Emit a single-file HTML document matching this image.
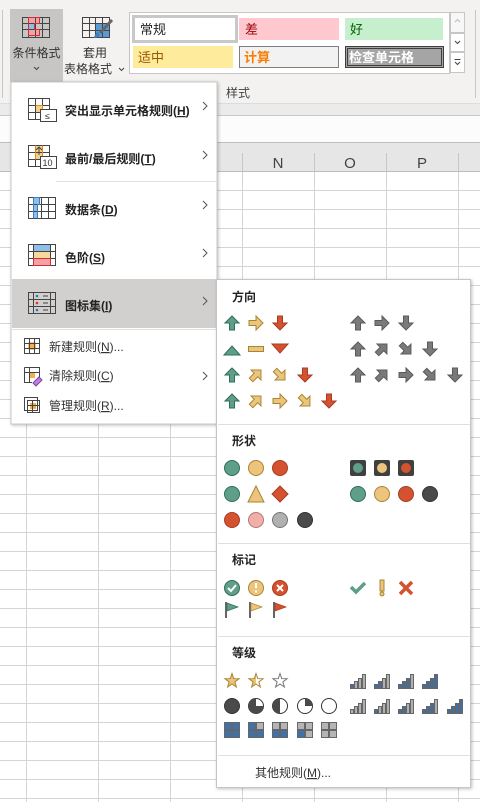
<!DOCTYPE html>
<html><head><meta charset="utf-8">
<style>
html,body{margin:0;padding:0;width:480px;height:802px;overflow:hidden;background:#fff}
svg{display:block}
text{font-family:"Liberation Sans","Noto Sans CJK SC",sans-serif}
</style></head><body>
<svg width="480" height="802" viewBox="0 0 480 802" xmlns="http://www.w3.org/2000/svg">
<defs>
<polygon id="up" points="8,1 15,8 10.5,8 10.5,15 5.5,15 5.5,8 1,8"/>
<polygon id="star" points="8,0.5 9.76,5.57 15.13,5.68 10.85,8.93 12.41,14.07 8,11 3.59,14.07 5.15,8.93 0.87,5.68 6.24,5.57"/>
<linearGradient id="half" x1="0" x2="1" y1="0" y2="0"><stop offset="0.5" stop-color="#ecc47e"/><stop offset="0.5" stop-color="#fff"/></linearGradient>
<filter id="sh" x="-10%" y="-10%" width="130%" height="130%"><feDropShadow dx="1" dy="1" stdDeviation="1.5" flood-opacity="0.25"/></filter>
</defs>

<!-- grid background -->
<rect x="0" y="171" width="480" height="631" fill="#fff"/>
<g stroke="#d4d4d4" stroke-width="1">
<path d="M0 190.5H480M0 209.5H480M0 228.5H480M0 247.5H480M0 266.5H480M0 285.5H480M0 304.5H480M0 323.5H480M0 342.5H480M0 361.5H480M0 380.5H480M0 399.5H480M0 418.5H480M0 437.5H480M0 456.5H480M0 475.5H480M0 494.5H480M0 513.5H480M0 532.5H480M0 551.5H480M0 570.5H480M0 589.5H480M0 608.5H480M0 627.5H480M0 646.5H480M0 665.5H480M0 684.5H480M0 703.5H480M0 722.5H480M0 741.5H480M0 760.5H480M0 779.5H480M0 798.5H480"/>
<path d="M26.5 171V802M98.5 171V802M170.5 171V802M242.5 171V802M314.5 171V802M386.5 171V802M458.5 171V802"/>
</g>
<!-- header row -->
<rect x="0" y="142" width="480" height="29" fill="#e6e6e6"/>
<path d="M0 142.5H480M0 171.5H480" stroke="#bdbdbd"/>
<path d="M242.5 153V171M314.5 153V171M386.5 153V171M458.5 153V171M26.5 153V171M98.5 153V171M170.5 153V171" stroke="#c6c6c6"/>
<text x="278" y="168" font-size="15" fill="#444" text-anchor="middle">N</text>
<text x="350" y="168" font-size="15" fill="#444" text-anchor="middle">O</text>
<text x="422" y="168" font-size="15" fill="#444" text-anchor="middle">P</text>
<!-- formula band -->
<rect x="0" y="104" width="480" height="11" fill="#ebebeb"/>
<rect x="0" y="115" width="480" height="27" fill="#fcfcfc"/>
<path d="M0 115.5H480" stroke="#c8c8c8"/>

<!-- ribbon -->
<rect x="0" y="0" width="480" height="104" fill="#f3f2f1"/>
<path d="M0 103.5H480" stroke="#dcdcdc"/>
<path d="M2.5 10V98M475.5 10V98" stroke="#c8c6c4"/>
<rect x="10" y="9" width="53" height="73" fill="#c8c6c4"/>
<!-- cond format icon -->
<g transform="translate(22,17)">
<rect x="6" y="0" width="12" height="6" fill="#f4a0a8"/><rect x="6" y="12" width="12" height="6" fill="#f4a0a8"/><rect x="6" y="6" width="6" height="6" fill="#8fbfe6"/>
<path d="M0.5 0.5H27.5V20.5H0.5ZM0.5 6.5H27.5M0.5 12.5H27.5M6.5 .5V20.5M13.5 .5V20.5M20.5 .5V20.5" fill="none" stroke="#444"/>
<path d="M6.5 .5H17.5V6.5H12.5V12.5H17.5V18.5H6.5Z" fill="none" stroke="#d03030"/>
</g>
<text x="36.5" y="57" font-size="12" fill="#333" text-anchor="middle">条件格式</text>
<path d="M34 67l2.5 2.5 2.5-2.5" fill="none" stroke="#444"/>
<!-- table icon -->
<g transform="translate(82,17)">
<rect x="13" y="6" width="14" height="14" fill="#5b9bd5"/>
<path d="M0.5 0.5H27.5V20.5H0.5ZM0.5 6.5H27.5M0.5 13.5H27.5M7.5 .5V20.5M13.5 .5V20.5M20.5 .5V20.5" fill="none" stroke="#444"/>
<path d="M30 3L18 16" stroke="#666" stroke-width="3"/><path d="M16 15q-3 1-4 6q4 0 6-3z" fill="#3b7cc4"/>
</g>
<text x="95" y="57" font-size="12" fill="#333" text-anchor="middle">套用</text>
<text x="88" y="73" font-size="12" fill="#333" text-anchor="middle">表格格式</text>
<path d="M119 68l2.5 2.5 2.5-2.5" fill="none" stroke="#444"/>
<!-- styles gallery -->
<rect x="129.5" y="12.5" width="320" height="61" fill="#fff" stroke="#c8c6c4"/>
<rect x="133.5" y="16.5" width="103" height="25" fill="#fff" stroke="#c8c8c8" stroke-width="3"/>
<text x="140" y="34" font-size="13" fill="#222">常规</text>
<rect x="239" y="18" width="100" height="22" fill="#ffc7ce"/>
<text x="245" y="34" font-size="13" fill="#9c0006">差</text>
<rect x="345" y="18" width="98" height="22" fill="#c6efce"/>
<text x="350" y="34" font-size="13" fill="#006100">好</text>
<rect x="133" y="46" width="100" height="22" fill="#ffeb9c"/>
<text x="138" y="62" font-size="13" fill="#9c5700">适中</text>
<rect x="239.5" y="46.5" width="99" height="21" fill="#f2f2f2" stroke="#7f7f7f"/>
<text x="244" y="62" font-size="13" font-weight="bold" fill="#fa7d00">计算</text>
<rect x="345.5" y="46.5" width="98" height="21" fill="#a5a5a5" stroke="#3f3f3f" stroke-width="1"/>
<rect x="347.5" y="48.5" width="94" height="17" fill="none" stroke="#3f3f3f"/>
<text x="349" y="62" font-size="13" font-weight="bold" fill="#fff">检查单元格</text>
<rect x="450.5" y="12.5" width="14" height="20" fill="#f7f7f7" stroke="#c8c6c4"/>
<rect x="450.5" y="33.5" width="14" height="18" fill="#fff" stroke="#c8c6c4"/>
<rect x="450.5" y="52.5" width="14" height="20" fill="#fff" stroke="#c8c6c4"/>
<path d="M455 22l2.5-2.5 2.5 2.5" fill="none" stroke="#bbb"/>
<path d="M455 41l2.5 2.5 2.5-2.5" fill="none" stroke="#444"/>
<path d="M454.5 59.5h6M455 62l2.5 2.5 2.5-2.5" fill="none" stroke="#444"/>
<text x="226" y="97" font-size="12" fill="#444">样式</text>

<!-- main menu -->
<rect x="11" y="82" width="206" height="342" fill="#fff" stroke="#c8c6c4" filter="url(#sh)"/>
<rect x="12" y="279" width="204" height="49" fill="#d2d0ce"/>
<path d="M56 181.5H216M12 329.5H216" stroke="#e1dfdd"/>
<g fill="none" stroke="#444">
<!-- highlight icon -->
<g transform="translate(28,98)"><rect x="7" y="7" width="8" height="7" fill="#f7d08a" stroke="none"/><path d="M.5 .5H21.5V21.5H.5ZM.5 7.5H21.5M.5 14.5H21.5M7.5 .5V21.5M14.5 .5V21.5"/><path d="M7.5 7.5H14.5V14.5" stroke="#e08a1e"/><rect x="12.5" y="11.5" width="16" height="12" fill="#fff"/><text x="17" y="21" font-size="9" fill="#333" stroke="none">≤</text></g>
<g transform="translate(28,145)"><rect x="7" y="1" width="8" height="13" fill="#f7d08a" stroke="none"/><path d="M.5 .5H21.5V21.5H.5ZM.5 7.5H21.5M.5 14.5H21.5M7.5 .5V21.5M14.5 .5V21.5"/><path d="M7.5 .5V14.5M14.5 .5V14.5" stroke="#e08a1e"/><path d="M11 10V2M8 5l3-3 3 3"/><rect x="12.5" y="11.5" width="16" height="12" fill="#fff"/><text x="14.5" y="21" font-size="9" fill="#333" stroke="none">10</text></g>
<g transform="translate(28,197)"><rect x="5" y="1" width="5" height="20" fill="#8fbfe6" stroke="none"/><rect x="5" y="1" width="7" height="6" fill="#8fbfe6" stroke="none"/><path d="M.5 .5H27.5V21.5H.5ZM.5 7.5H27.5M.5 14.5H27.5M13.5 .5V21.5M20.5 .5V21.5"/><path d="M5.5 .5V21.5M5.5 .5H11.5V7.5H9.5V21.5" stroke="#3b7cc4"/></g>
<g transform="translate(28,244)"><rect x="5" y="1" width="18" height="6" fill="#8fbfe6" stroke="none"/><rect x="5" y="8" width="18" height="6" fill="#f7d89a" stroke="none"/><rect x="5" y="15" width="18" height="6" fill="#f4a0a8" stroke="none"/><path d="M.5 .5H27.5V21.5H.5ZM.5 7.5H27.5M.5 14.5H27.5M5.5 .5V21.5M22.5 .5V21.5"/><path d="M5.5 14.5H22.5V21.5H5.5Z" stroke="#d03030"/></g>
<g transform="translate(28,292)"><path d="M.5 .5H27.5V21.5H.5ZM.5 7.5H27.5M.5 14.5H27.5M5.5 .5V21.5M22.5 .5V21.5M15 4H20M15 11H20M15 18H20"/><circle cx="9" cy="4" r="1.3" fill="#2e75b6" stroke="none"/><circle cx="9" cy="11" r="1.3" fill="#e03030" stroke="none"/><circle cx="9" cy="18" r="1.3" fill="#2e75b6" stroke="none"/></g>
<g transform="translate(24,338)"><rect x="5" y="5" width="6" height="6" fill="#f2b04a" stroke="#e08a1e"/><path d="M.5 .5H15.5V15.5H.5ZM.5 5.5H15.5M.5 10.5H15.5M5.5 .5V15.5M10.5 .5V15.5"/></g>
<g transform="translate(24,367)"><rect x="5" y="5" width="6" height="6" fill="#f2b04a" stroke="none"/><path d="M.5 .5H15.5V10M.5 .5V15.5H8M.5 5.5H15.5M5.5 .5V15.5"/><path d="M9 16l6-6 3 3-6 6z" fill="#c080e0" stroke="#8040a0"/></g>
<g transform="translate(24,397)"><rect x="6" y="6" width="6" height="6" fill="#f2b04a" stroke="none"/><path d="M.5 .5H13.5V13.5H.5ZM3.5 3.5H15.5V15.5H3.5ZM3.5 8.5H15.5M8.5 3.5V15.5"/></g>
</g>
<g font-size="12" fill="#222" font-weight="bold">
<text x="65" y="115">突出显示单元格规则(<tspan text-decoration="underline">H</tspan>)</text>
<text x="65" y="163">最前/最后规则(<tspan text-decoration="underline">T</tspan>)</text>
<text x="65" y="214">数据条(<tspan text-decoration="underline">D</tspan>)</text>
<text x="65" y="262">色阶(<tspan text-decoration="underline">S</tspan>)</text>
<text x="65" y="310">图标集(<tspan text-decoration="underline">I</tspan>)</text>
</g>
<g font-size="12" fill="#333">
<text x="49" y="351">新建规则(<tspan text-decoration="underline">N</tspan>)...</text>
<text x="49" y="380">清除规则(<tspan text-decoration="underline">C</tspan>)</text>
<text x="49" y="410">管理规则(<tspan text-decoration="underline">R</tspan>)...</text>
</g>
<g fill="none" stroke="#555"><path d="M203 102l4 4-4 4M203 151l4 4-4 4M203 201l4 4-4 4M203 249l4 4-4 4M203 297l4 4-4 4M203 372l4 4-4 4"/></g>

<!-- submenu -->
<rect x="216.5" y="279.5" width="254" height="508" fill="#fff" stroke="#c8c6c4" filter="url(#sh)"/>
<path d="M218 424.5H470M218 543.5H470M218 636.5H470M218 755.5H470" stroke="#e1dfdd"/>
<g font-size="12" font-weight="bold" fill="#222">
<text x="232" y="301">方向</text><text x="232" y="445">形状</text><text x="232" y="564">标记</text><text x="232" y="657">等级</text>
</g>
<text x="255" y="777" font-size="12" fill="#333">其他规则(<tspan text-decoration="underline">M</tspan>)...</text>

<!-- direction arrows -->
<g stroke-width="1">
<g fill="#5f9e88" stroke="#2f6e57">
<use href="#up" transform="translate(224,315)"/>
<use href="#up" transform="translate(224,367)"/>
<use href="#up" transform="translate(224,393)"/>
<polygon points="224,355 232,346 240,355"/>
</g>
<g fill="#ecc47e" stroke="#a98530">
<use href="#up" transform="translate(248,315) rotate(90 8 8)"/>
<rect x="248.5" y="346.5" width="15" height="5"/>
<use href="#up" transform="translate(248,367) rotate(45 8 8)"/>
<use href="#up" transform="translate(272,367) rotate(135 8 8)"/>
<use href="#up" transform="translate(248,393) rotate(45 8 8)"/>
<use href="#up" transform="translate(272,393) rotate(90 8 8)"/>
<use href="#up" transform="translate(297,393) rotate(135 8 8)"/>
</g>
<g fill="#d4522f" stroke="#a73d22">
<use href="#up" transform="translate(272,315) rotate(180 8 8)"/>
<polygon points="272,344 288,344 280,353"/>
<use href="#up" transform="translate(297,367) rotate(180 8 8)"/>
<use href="#up" transform="translate(321,393) rotate(180 8 8)"/>
</g>
<g fill="#7a7a7a" stroke="#5a5a5a">
<use href="#up" transform="translate(350,315)"/>
<use href="#up" transform="translate(374,315) rotate(90 8 8)"/>
<use href="#up" transform="translate(398,315) rotate(180 8 8)"/>
<use href="#up" transform="translate(350,341)"/>
<use href="#up" transform="translate(374,341) rotate(45 8 8)"/>
<use href="#up" transform="translate(398,341) rotate(135 8 8)"/>
<use href="#up" transform="translate(422,341) rotate(180 8 8)"/>
<use href="#up" transform="translate(350,367)"/>
<use href="#up" transform="translate(374,367) rotate(45 8 8)"/>
<use href="#up" transform="translate(398,367) rotate(90 8 8)"/>
<use href="#up" transform="translate(422,367) rotate(135 8 8)"/>
<use href="#up" transform="translate(447,367) rotate(180 8 8)"/>
</g>
</g>

<!-- shapes -->
<g stroke-width="1">
<circle cx="232" cy="468" r="7.5" fill="#5f9e88" stroke="#2f6e57"/>
<circle cx="256" cy="468" r="7.5" fill="#ecc47e" stroke="#a98530"/>
<circle cx="280" cy="468" r="7.5" fill="#d4522f" stroke="#a73d22"/>
<rect x="350" y="460" width="16" height="16" rx="2" fill="#404040"/><circle cx="358" cy="468" r="5" fill="#5f9e88"/>
<rect x="374" y="460" width="16" height="16" rx="2" fill="#404040"/><circle cx="382" cy="468" r="5" fill="#ecc47e"/>
<rect x="398" y="460" width="16" height="16" rx="2" fill="#404040"/><circle cx="406" cy="468" r="5" fill="#d4522f"/>
<circle cx="232" cy="494" r="7.5" fill="#5f9e88" stroke="#2f6e57"/>
<polygon points="256,486 264,502 248,502" fill="#ecc47e" stroke="#a98530"/>
<polygon points="280,486 288,494 280,502 272,494" fill="#d4522f" stroke="#a73d22"/>
<circle cx="358" cy="494" r="7.5" fill="#5f9e88" stroke="#2f6e57"/>
<circle cx="382" cy="494" r="7.5" fill="#ecc47e" stroke="#a98530"/>
<circle cx="406" cy="494" r="7.5" fill="#d4522f" stroke="#a73d22"/>
<circle cx="430" cy="494" r="7.5" fill="#4a4a4a" stroke="#333"/>
<circle cx="232" cy="520" r="7.5" fill="#d4522f" stroke="#a73d22"/>
<circle cx="256" cy="520" r="7.5" fill="#f0b0a8" stroke="#b07a72"/>
<circle cx="280" cy="520" r="7.5" fill="#b0b0b0" stroke="#777"/>
<circle cx="305" cy="520" r="7.5" fill="#4a4a4a" stroke="#333"/>
</g>

<!-- marks -->
<circle cx="232" cy="588" r="7.5" fill="#5f9e88" stroke="#2f6e57"/>
<path d="M228 588l3 3 5-6" fill="none" stroke="#fff" stroke-width="2"/>
<circle cx="256" cy="588" r="7.5" fill="#ecc47e" stroke="#a98530"/>
<path d="M256 583v5" stroke="#fff" stroke-width="2"/><circle cx="256" cy="591.5" r="1.2" fill="#fff"/>
<circle cx="280" cy="588" r="7.5" fill="#d4522f" stroke="#a73d22"/>
<path d="M277 585l6 6M283 585l-6 6" stroke="#fff" stroke-width="2"/>
<path d="M351 587l5 5 9-9" fill="none" stroke="#5f9e88" stroke-width="3.5"/>
<rect x="380" y="580" width="4" height="11" fill="#ecc47e" stroke="#a98530"/><circle cx="382" cy="594" r="2" fill="#ecc47e" stroke="#a98530"/>
<path d="M400 582l12 12M412 582l-12 12" stroke="#d4522f" stroke-width="3.5"/>
<g stroke="#666" stroke-width="2"><path d="M226 602v16M250 602v16M274 602v16"/></g>
<polygon points="227,603 238,607 227,611" fill="#5f9e88" stroke="#2f6e57" stroke-width=".7"/>
<polygon points="251,603 262,607 251,611" fill="#ecc47e" stroke="#a98530" stroke-width=".7"/>
<polygon points="275,603 286,607 275,611" fill="#d4522f" stroke="#a73d22" stroke-width=".7"/>

<!-- ratings -->
<use href="#star" transform="translate(224,673)" fill="#ecc47e" stroke="#a98530"/>
<use href="#star" transform="translate(248,673)" fill="url(#half)" stroke="#a98530"/>
<use href="#star" transform="translate(272,673)" fill="#fff" stroke="#777"/>
<g stroke="#333" stroke-width="1">
<circle cx="232" cy="706" r="7.5" fill="#4a4a4a"/>
<circle cx="256" cy="706" r="7.5" fill="#fff"/><path d="M256 706V698.5A7.5 7.5 0 1 0 263.5 706Z" fill="#4a4a4a" stroke="none"/>
<circle cx="280" cy="706" r="7.5" fill="#fff"/><path d="M280 698.5A7.5 7.5 0 0 0 280 713.5Z" fill="#4a4a4a" stroke="none"/>
<circle cx="305" cy="706" r="7.5" fill="#fff"/><path d="M305 706V698.5A7.5 7.5 0 0 1 312.5 706Z" fill="#4a4a4a" stroke="none"/>
<circle cx="329" cy="706" r="7.5" fill="#fff"/>
</g>
<!-- signal bars -->
<g stroke="#666" stroke-width="1">
<g transform="translate(350,673)"><rect x="0.5" y="11.5" width="3" height="4" fill="#3f6fa6"/><rect x="4.5" y="8.5" width="3" height="7" fill="#b0b0b0"/><rect x="8.5" y="5.5" width="3" height="10" fill="#b0b0b0"/><rect x="12.5" y="1.5" width="3" height="14" fill="#b0b0b0"/></g>
<g transform="translate(374,673)"><rect x="0.5" y="11.5" width="3" height="4" fill="#3f6fa6"/><rect x="4.5" y="8.5" width="3" height="7" fill="#3f6fa6"/><rect x="8.5" y="5.5" width="3" height="10" fill="#b0b0b0"/><rect x="12.5" y="1.5" width="3" height="14" fill="#b0b0b0"/></g>
<g transform="translate(398,673)"><rect x="0.5" y="11.5" width="3" height="4" fill="#3f6fa6"/><rect x="4.5" y="8.5" width="3" height="7" fill="#3f6fa6"/><rect x="8.5" y="5.5" width="3" height="10" fill="#3f6fa6"/><rect x="12.5" y="1.5" width="3" height="14" fill="#b0b0b0"/></g>
<g transform="translate(422,673)"><rect x="0.5" y="11.5" width="3" height="4" fill="#3f6fa6"/><rect x="4.5" y="8.5" width="3" height="7" fill="#3f6fa6"/><rect x="8.5" y="5.5" width="3" height="10" fill="#3f6fa6"/><rect x="12.5" y="1.5" width="3" height="14" fill="#3f6fa6"/></g>
<g transform="translate(350,698)"><rect x="0.5" y="11.5" width="3" height="4" fill="#b0b0b0"/><rect x="4.5" y="8.5" width="3" height="7" fill="#b0b0b0"/><rect x="8.5" y="5.5" width="3" height="10" fill="#b0b0b0"/><rect x="12.5" y="1.5" width="3" height="14" fill="#b0b0b0"/></g>
<g transform="translate(374,698)"><rect x="0.5" y="11.5" width="3" height="4" fill="#3f6fa6"/><rect x="4.5" y="8.5" width="3" height="7" fill="#b0b0b0"/><rect x="8.5" y="5.5" width="3" height="10" fill="#b0b0b0"/><rect x="12.5" y="1.5" width="3" height="14" fill="#b0b0b0"/></g>
<g transform="translate(398,698)"><rect x="0.5" y="11.5" width="3" height="4" fill="#3f6fa6"/><rect x="4.5" y="8.5" width="3" height="7" fill="#3f6fa6"/><rect x="8.5" y="5.5" width="3" height="10" fill="#b0b0b0"/><rect x="12.5" y="1.5" width="3" height="14" fill="#b0b0b0"/></g>
<g transform="translate(422,698)"><rect x="0.5" y="11.5" width="3" height="4" fill="#3f6fa6"/><rect x="4.5" y="8.5" width="3" height="7" fill="#3f6fa6"/><rect x="8.5" y="5.5" width="3" height="10" fill="#3f6fa6"/><rect x="12.5" y="1.5" width="3" height="14" fill="#b0b0b0"/></g>
<g transform="translate(447,698)"><rect x="0.5" y="11.5" width="3" height="4" fill="#3f6fa6"/><rect x="4.5" y="8.5" width="3" height="7" fill="#3f6fa6"/><rect x="8.5" y="5.5" width="3" height="10" fill="#3f6fa6"/><rect x="12.5" y="1.5" width="3" height="14" fill="#3f6fa6"/></g>
</g>
<!-- quadrants -->
<g stroke="#666" stroke-width="1">
<g transform="translate(224,722)"><rect x=".5" y=".5" width="7" height="7" fill="#3f72a8"/><rect x="8.5" y=".5" width="7" height="7" fill="#3f72a8"/><rect x=".5" y="8.5" width="7" height="7" fill="#3f72a8"/><rect x="8.5" y="8.5" width="7" height="7" fill="#3f72a8"/></g>
<g transform="translate(248,722)"><rect x=".5" y=".5" width="7" height="7" fill="#3f72a8"/><rect x="8.5" y=".5" width="7" height="7" fill="#b5b5b5"/><rect x=".5" y="8.5" width="7" height="7" fill="#3f72a8"/><rect x="8.5" y="8.5" width="7" height="7" fill="#3f72a8"/></g>
<g transform="translate(272,722)"><rect x=".5" y=".5" width="7" height="7" fill="#b5b5b5"/><rect x="8.5" y=".5" width="7" height="7" fill="#b5b5b5"/><rect x=".5" y="8.5" width="7" height="7" fill="#3f72a8"/><rect x="8.5" y="8.5" width="7" height="7" fill="#3f72a8"/></g>
<g transform="translate(297,722)"><rect x=".5" y=".5" width="7" height="7" fill="#b5b5b5"/><rect x="8.5" y=".5" width="7" height="7" fill="#b5b5b5"/><rect x=".5" y="8.5" width="7" height="7" fill="#3f72a8"/><rect x="8.5" y="8.5" width="7" height="7" fill="#b5b5b5"/></g>
<g transform="translate(321,722)"><rect x=".5" y=".5" width="7" height="7" fill="#b5b5b5"/><rect x="8.5" y=".5" width="7" height="7" fill="#b5b5b5"/><rect x=".5" y="8.5" width="7" height="7" fill="#b5b5b5"/><rect x="8.5" y="8.5" width="7" height="7" fill="#b5b5b5"/></g>
</g>
</svg>
</body></html>
